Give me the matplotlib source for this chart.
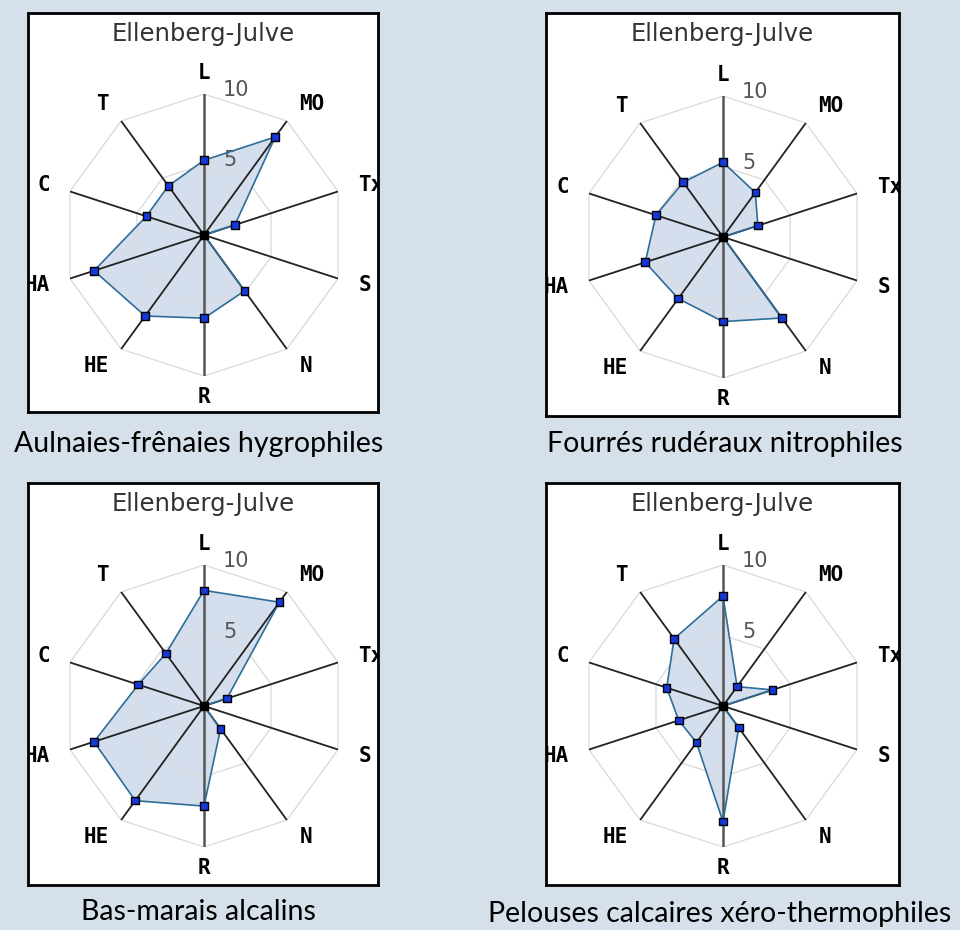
import numpy as np
import matplotlib.pyplot as plt

# indices d'Ellenberg-Julve
indices = ['L', 'MO', 'Tx', 'S', 'N', 'R', 'HE', 'HA', 'C', 'T']
aulnaies = [5.3, 8.6, 2.3, 0, 4.9, 5.9, 7.1, 8.2, 4.3, 4.3]
fourres = [5.3, 3.9, 2.6, 0, 7.1, 6.0, 5.4, 5.8, 5.0, 4.8]
bas_marais = [8.2, 9.1, 1.7, 0, 2.0, 7.1, 8.3, 8.2, 4.9, 4.6]
pelouses = [7.8, 1.7, 3.7, 0, 1.9, 8.2, 3.2, 3.3, 4.2, 5.9]
anneaux = [5, 10]
legendes = ['Aulnaies-frênaies hygrophiles', 'Fourrés rudéraux nitrophiles',
            'Bas-marais alcalins', 'Pelouses calcaires xéro-thermophiles']
series = [aulnaies, fourres, bas_marais, pelouses]

W, H = 960, 930
fond = '#d6e0eb'
fig = plt.figure(figsize=(W / 100, H / 100), dpi=100, facecolor=fond)


def rect(x, y, w, h):
    # pixels (origine en haut a gauche) -> fraction de figure
    return [x / W, 1 - (y + h) / H, w / W, h / H]


# cadres, centres et position des légendes (pixels)
cadres = [(28, 13, 350, 399), (546, 13, 353, 403),
          (28, 483, 350, 402), (546, 483, 353, 402)]
centres = [(204, 235), (723, 237), (204, 706), (723, 706)]
legende_xy = [(199, 452), (725, 452), (198, 920), (720, 922)]
R = 141

theta = np.deg2rad(np.arange(len(indices)) * 360 / len(indices))
theta_f = np.append(theta, theta[0])

for k, vals in enumerate(series):
    x0, y0, w0, h0 = cadres[k]
    cadre = fig.add_axes(rect(x0, y0, w0, h0))
    cadre.set_facecolor('white')
    cadre.set_xticks([])
    cadre.set_yticks([])
    for sp in cadre.spines.values():
        sp.set_linewidth(2)
        sp.set_color('black')
    cadre.text(0.5, 1 - 21 / h0, 'Ellenberg-Julve', transform=cadre.transAxes,
               ha='center', va='center', fontsize=17.5, color='#333333')

    cx, cy = centres[k]
    ax = fig.add_axes(rect(cx - R, cy - R, 2 * R, 2 * R), projection='polar')
    ax.set_theta_zero_location('N')
    ax.set_theta_direction(-1)
    ax.set_ylim(0, 10)
    ax.axis('off')
    ax.patch.set_alpha(0)

    v = np.array(vals, dtype=float)
    v_f = np.append(v, v[0])
    ax.fill(theta_f, v_f, color='#d5deed', zorder=1, lw=0)
    for a in anneaux:
        ax.plot(theta_f, [a] * len(theta_f), color='#dcdcdc', lw=1, zorder=2)
    for i, t in enumerate(theta):
        vert = i in (0, 5)
        ax.plot([t, t], [0, 10], color='#555555' if vert else '#222222',
                lw=1.8 if vert else 1.3, zorder=3)
    ax.plot(theta_f, v_f, color='#2d6e99', lw=1.2, zorder=4)
    couleurs = ['black' if x == 0 else '#1638d8' for x in v]
    ax.scatter(theta, v, marker='s', s=30, c=couleurs, edgecolors='black',
               linewidths=1, zorder=5, clip_on=False)

    for t, lab in zip(theta, indices):
        s = np.sin(t)
        ha = 'center' if abs(s) < 0.1 else ('left' if s > 0 else 'right')
        txt = ax.text(t, 11.5, lab, ha=ha, va='center',
                      fontfamily='DejaVu Sans Mono', fontweight='bold',
                      fontsize=15, color='black')
        txt.set_clip_on(True)
        txt.set_clip_box(cadre.bbox)
    for a in anneaux:
        ax.annotate(str(a), xy=(0, a), xytext=(32 if a == 10 else 26, 4),
                    textcoords='offset pixels', ha='center', va='center',
                    fontsize=15, color='#555555')

    fig.text(legende_xy[k][0] / W, 1 - legende_xy[k][1] / H, legendes[k],
             ha='center', va='baseline', fontsize=20.5, fontfamily='Lato',
             color='black')

plt.savefig('out.png', dpi=100, facecolor=fond)
